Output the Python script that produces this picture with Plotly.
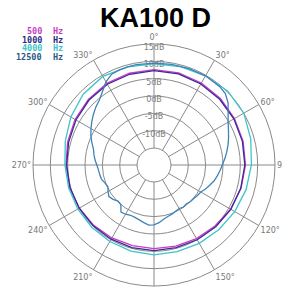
import plotly.graph_objects as go

W, H = 282, 288

# ---- data ----
title_text = "KA100 D"
series_names = ["500", "1000", "4000", "12500"]
series_colors = ["#c83cc8", "#3c2a96", "#3ec4c8", "#3f82b8"]
legend_colors = ["#c83cc8", "#2a2a84", "#3ec4c8", "#2a5a84"]

angles_15 = [0, 15, 30, 45, 60, 75, 90, 105, 120, 135, 150, 165,
             180, 195, 210, 225, 240, 255, 270, 285, 300, 315, 330, 345, 360]

db_500 = [7.6, 7.6, 7.4, 7.2, 6.9, 6.7, 6.5, 6.1, 5.6, 5.0, 4.6, 4.3,
          4.2, 4.2, 4.4, 4.7, 5.0, 5.3, 5.5, 5.9, 6.4, 6.9, 7.3, 7.5, 7.6]
db_1000 = [7.3, 7.3, 7.1, 6.9, 6.7, 6.5, 6.3, 6.0, 5.7, 5.3, 5.0, 4.8,
           4.8, 4.8, 4.8, 4.9, 5.0, 5.2, 5.3, 5.6, 6.1, 6.6, 7.0, 7.2, 7.3]
db_4000 = [9.3, 9.5, 9.8, 10.2, 10.0, 9.0, 8.2, 7.6, 7.0, 6.5, 6.2, 6.0,
           6.0, 5.8, 5.6, 5.5, 5.5, 5.6, 5.8, 6.6, 7.8, 9.0, 9.6, 9.4, 9.3]

angles_5 = [0, 10, 20, 30, 40, 45, 50, 55, 60, 65, 70, 75, 80, 85, 90, 95,
            100, 105, 110, 115, 120, 125, 130, 135, 140, 145, 150, 155, 160,
            165, 170, 175, 180, 185, 190, 195, 200, 205, 210, 215, 220, 225,
            230, 235, 240, 245, 250, 255, 260, 265, 270, 275, 280, 285, 290,
            295, 300, 305, 310, 315, 320, 325, 330, 335, 340, 345, 350, 360]
db_12500 = [9.5, 9.6, 9.7, 9.8, 9.6, 9.2, 8.0, 6.2, 4.8, 3.8, 3.0, 2.2, 1.4,
            0.6, -0.2, -0.8, -1.4, -2.0, -2.8, -3.5, -4.3, -4.6, -4.9, -5.0,
            -5.3, -5.1, -5.4, -5.2, -4.8, -4.5, -4.0, -3.2, -2.6, -2.5, -3.0,
            -3.5, -3.8, -3.9, -3.5, -3.3, -5.0, -5.2, -4.5, -4.0, -4.6, -5.2,
            -4.8, -4.2, -4.0, -3.8, -3.4, -2.8, -2.3, -1.8, -0.8, 0.2, 1.1,
            2.0, 2.9, 3.8, 4.6, 6.0, 7.8, 9.0, 9.3, 9.4, 9.5, 9.5]

radial_ticks = [-15, -10, -5, 0, 5, 10, 15]
radial_label_values = [15, 10, 5, 0, -5, -10]
radial_label_text = ["15dB", "10dB", "5dB", "0dB", "-5dB", "-10dB"]
angular_ticks = [0, 30, 60, 90, 120, 150, 180, 210, 240, 270, 300, 330]
angular_ticktext = [f"{a}°" for a in angular_ticks]

series_angles = [angles_15, angles_15, angles_15, angles_5]
series_values = [db_500, db_1000, db_4000, db_12500]

fig = go.Figure()
# radial labels drawn along the 0° spoke
fig.add_trace(go.Scatterpolar(theta=[0] * len(radial_label_values), r=radial_label_values,
                              mode="text", text=radial_label_text, textposition="bottom center",
                              textfont=dict(family="DejaVu Sans", size=8, color="#808080"),
                              showlegend=False, hoverinfo="skip"))
for name, col, th, r in zip(series_names, series_colors, series_angles, series_values):
    fig.add_trace(go.Scatterpolar(theta=th, r=r, mode="lines", name=name + " Hz",
                                  line=dict(color=col, width=1.3), showlegend=False))

grid = "#8a8a8a"
cx, cy, R = 154, 165, 121
fig.update_layout(
    width=W, height=H,
    margin=dict(l=0, r=0, t=0, b=0),
    paper_bgcolor="white", plot_bgcolor="white",
    polar=dict(
        domain=dict(x=[(cx - R) / W, (cx + R) / W], y=[(H - cy - R) / H, (H - cy + R) / H]),
        bgcolor="white",
        hole=0.14,
        radialaxis=dict(range=[-15, 15], tickvals=radial_ticks, showticklabels=False,
                        angle=90, showline=False, ticks="",
                        gridcolor=grid, gridwidth=1),
        angularaxis=dict(rotation=90, direction="clockwise", tickvals=angular_ticks,
                         ticktext=angular_ticktext, showline=True, linecolor=grid,
                         gridcolor=grid, ticks="",
                         tickfont=dict(family="DejaVu Sans", size=8, color="#777")),
    ),
)

annotations = [dict(text="<b>" + title_text + "</b>", x=155 / W, y=1 - 18 / H,
                    xref="paper", yref="paper", showarrow=False, yanchor="middle",
                    font=dict(family="Liberation Sans", size=27, color="black"))]
legend_y = [31, 39.5, 48, 56.5]
for name, col, yy in zip(series_names, legend_colors, legend_y):
    annotations.append(dict(text="<b>" + name + "</b>", x=43 / W, y=1 - yy / H,
                            xanchor="right", yanchor="middle", borderpad=0,
                            xref="paper", yref="paper", showarrow=False,
                            font=dict(family="DejaVu Sans Mono", size=8.5, color=col)))
    annotations.append(dict(text="<b>Hz</b>", x=52 / W, y=1 - yy / H,
                            xanchor="left", yanchor="middle", borderpad=0,
                            xref="paper", yref="paper", showarrow=False,
                            font=dict(family="DejaVu Sans Mono", size=8.5, color=col)))
fig.update_layout(annotations=annotations)

fig.write_html("out.html", config={"displayModeBar": False},
               post_script="document.body.style.margin='0';")
